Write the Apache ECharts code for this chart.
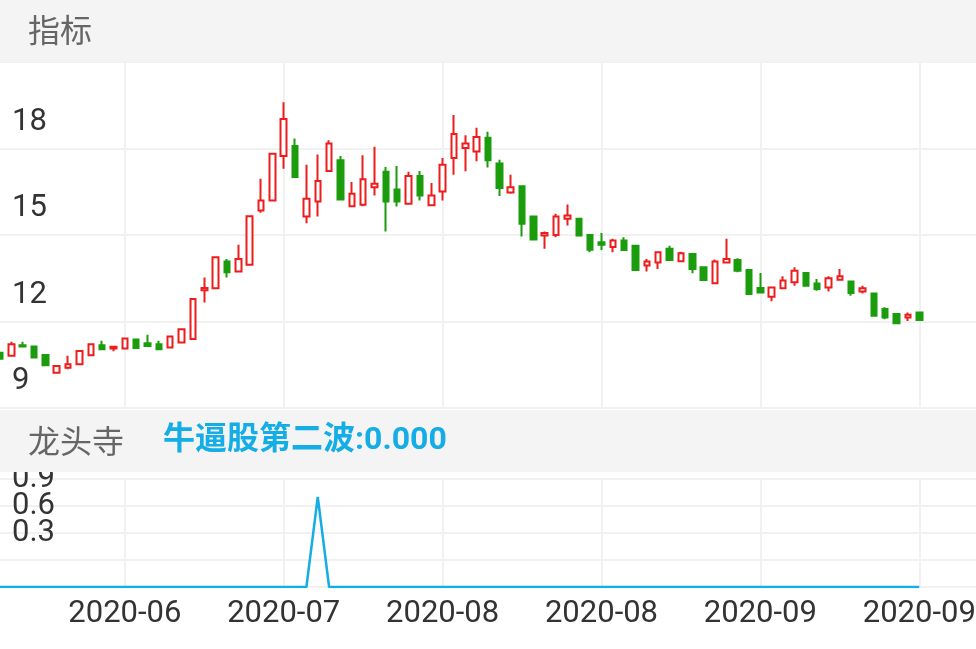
<!DOCTYPE html>
<html>
<head>
<meta charset="utf-8">
<title>指标</title>
<script src="https://cdn.jsdelivr.net/npm/echarts@6/dist/echarts.min.js"></script>
<style>
  html, body { margin: 0; padding: 0; background: #fff; }
  #main { width: 976px; height: 649px; }
</style>
</head>
<body>
<div id="main"></div>
<script>
// 交易日
const dates = [
    '2020-06-05', '2020-06-08', '2020-06-09', '2020-06-10', '2020-06-11', '2020-06-12',
    '2020-06-15', '2020-06-16', '2020-06-17', '2020-06-18', '2020-06-19', '2020-06-22',
    '2020-06-23', '2020-06-24', '2020-06-29', '2020-06-30', '2020-07-01', '2020-07-02',
    '2020-07-03', '2020-07-06', '2020-07-07', '2020-07-08', '2020-07-09', '2020-07-10',
    '2020-07-13', '2020-07-14', '2020-07-15', '2020-07-16', '2020-07-17', '2020-07-20',
    '2020-07-21', '2020-07-22', '2020-07-23', '2020-07-24', '2020-07-27', '2020-07-28',
    '2020-07-29', '2020-07-30', '2020-07-31', '2020-08-03', '2020-08-04', '2020-08-05',
    '2020-08-06', '2020-08-07', '2020-08-10', '2020-08-11', '2020-08-12', '2020-08-13',
    '2020-08-14', '2020-08-17', '2020-08-18', '2020-08-19', '2020-08-20', '2020-08-21',
    '2020-08-24', '2020-08-25', '2020-08-26', '2020-08-27', '2020-08-28', '2020-08-31',
    '2020-09-01', '2020-09-02', '2020-09-03', '2020-09-04', '2020-09-07', '2020-09-08',
    '2020-09-09', '2020-09-10', '2020-09-11', '2020-09-14', '2020-09-15', '2020-09-16',
    '2020-09-17', '2020-09-18', '2020-09-21', '2020-09-22', '2020-09-23', '2020-09-24',
    '2020-09-25', '2020-09-28', '2020-09-29', '2020-09-30'
];

// 开盘价
const openPrices = [
    10.92, 10.81, 11.18, 11.13, 10.84, 10.22, 10.40, 10.52, 10.83, 11.18, 11.06, 11.06,
    11.38, 11.25, 11.21, 11.10, 11.27, 11.39, 13.08, 13.15, 14.08, 13.73, 13.97, 15.85,
    16.20, 17.74, 18.09, 15.64, 16.16, 17.22, 17.59, 16.00, 16.05, 16.66, 17.19, 16.58,
    16.08, 17.05, 16.03, 16.51, 17.67, 18.02, 17.90, 18.37, 17.48, 16.47, 16.69, 15.64,
    14.98, 15.00, 15.56, 15.56, 15.00, 14.75, 14.58, 14.81, 14.63, 13.94, 14.05, 14.52,
    14.09, 14.34, 13.88, 13.33, 14.05, 14.13, 13.79, 13.16, 12.86, 13.15, 13.36, 13.68,
    13.32, 13.18, 13.45, 13.39, 13.04, 12.97, 12.43, 12.26, 12.14, 12.31
];

// 收盘价
const closePrices = [
    10.71, 11.21, 11.13, 10.75, 10.48, 10.46, 10.52, 10.98, 11.21, 11.04, 11.12, 11.41,
    11.08, 11.15, 11.04, 11.48, 11.73, 12.78, 13.16, 14.23, 13.71, 14.17, 15.65, 16.20,
    17.82, 19.02, 17.01, 16.26, 16.87, 18.17, 16.23, 16.43, 16.93, 16.78, 16.16, 16.16,
    17.05, 16.37, 16.37, 17.44, 18.50, 18.17, 18.40, 17.59, 16.63, 16.66, 15.39, 14.84,
    15.07, 15.64, 15.68, 14.98, 14.49, 14.66, 14.81, 14.48, 13.79, 14.08, 14.40, 14.13,
    14.37, 13.82, 13.44, 14.08, 14.17, 13.76, 12.95, 13.01, 13.18, 13.42, 13.76, 13.24,
    13.13, 13.50, 13.57, 12.99, 13.15, 12.20, 12.14, 11.94, 12.23, 12.05
];

// 最低价
const lowPrices = [
    10.71, 10.81, 11.12, 10.73, 10.45, 10.20, 10.34, 10.50, 10.80, 11.03, 10.97, 11.05,
    11.06, 11.14, 11.02, 11.08, 11.25, 11.37, 12.66, 13.13, 13.53, 13.71, 13.95, 15.77,
    16.18, 17.30, 17.00, 15.41, 15.64, 17.20, 16.21, 15.97, 16.00, 16.37, 15.12, 15.99,
    16.05, 16.20, 16.00, 16.20, 17.09, 17.21, 17.56, 17.34, 16.35, 16.43, 14.95, 14.83,
    14.52, 14.92, 15.33, 14.95, 14.40, 14.48, 14.40, 14.46, 13.76, 13.73, 13.82, 14.11,
    14.07, 13.67, 13.42, 13.31, 14.03, 13.71, 12.93, 12.99, 12.70, 13.13, 13.24, 13.22,
    13.07, 13.04, 13.44, 12.89, 12.97, 12.18, 12.08, 11.92, 12.02, 12.03
];

// 最高价
const highPrices = [
    10.92, 11.30, 11.30, 11.15, 10.86, 10.48, 10.81, 11.00, 11.24, 11.33, 11.15, 11.43,
    11.40, 11.54, 11.33, 11.50, 11.75, 12.80, 13.53, 14.25, 14.17, 14.66, 15.68, 16.95,
    17.84, 19.60, 18.35, 17.44, 17.79, 18.29, 17.74, 16.84, 17.77, 18.06, 17.36, 17.39,
    17.19, 17.22, 16.80, 17.67, 19.16, 18.46, 18.72, 18.58, 17.61, 17.09, 16.70, 15.66,
    15.12, 15.74, 16.06, 15.58, 15.02, 15.07, 14.87, 14.92, 14.65, 14.17, 14.42, 14.63,
    14.42, 14.36, 13.90, 14.15, 14.87, 14.19, 13.80, 13.68, 13.20, 13.57, 13.88, 13.70,
    13.47, 13.57, 13.82, 13.41, 13.24, 12.99, 12.49, 12.28, 12.31, 12.33
];

// 牛逼股第二波 信号
const signal = [
    0, 0, 0, 0, 0, 0, 0, 0, 0, 0, 0, 0, 0, 0, 0, 0, 0, 0, 0, 0, 0, 0, 0, 0,
    0, 0, 0, 0, 1, 0, 0, 0, 0, 0, 0, 0, 0, 0, 0, 0, 0, 0, 0, 0, 0, 0, 0, 0,
    0, 0, 0, 0, 0, 0, 0, 0, 0, 0, 0, 0, 0, 0, 0, 0, 0, 0, 0, 0, 0, 0, 0, 0,
    0, 0, 0, 0, 0, 0, 0, 0, 0, 0
];

// 右侧留白的空类目
const xCats = dates.concat(['', '', '', '', '']);

const kData = dates.map((d, i) => [openPrices[i], closePrices[i], lowPrices[i], highPrices[i]]);

const upColor = '#ee1d1d';
const downColor = '#1a9c0c';
const lineColor = '#14ade6';
const gridColor = '#f1f1f1';

// 从最后一个交易日往前每14个显示一次
const showTick = (idx) => idx < dates.length && (dates.length - 1 - idx) % 14 === 0;

var myChart = echarts.init(document.getElementById('main'));

const option = {
    animation: false,
    backgroundColor: '#fff',
    textStyle: { fontFamily: 'Roboto, "Noto Sans CJK SC", sans-serif' },
    grid: [
        { left: 0, right: 0, top: 62, height: 346, outerBoundsMode: 'none' },
        { left: 0, right: 0, top: 479, height: 108, outerBoundsMode: 'none' }
    ],
    xAxis: [
        {
            type: 'category',
            gridIndex: 0,
            data: xCats,
            boundaryGap: false,
            axisLine: { show: false },
            axisTick: { show: false },
            axisLabel: { show: false },
            splitLine: { show: true, interval: showTick, lineStyle: { color: gridColor, width: 2 } }
        },
        {
            type: 'category',
            gridIndex: 1,
            data: xCats,
            boundaryGap: false,
            axisLine: { show: false },
            axisTick: { show: false },
            axisLabel: {
                show: true,
                interval: showTick,
                margin: 12,
                fontSize: 31,
                color: '#333',
                formatter: (v) => v.slice(0, 7)
            },
            splitLine: { show: true, interval: showTick, lineStyle: { color: gridColor, width: 2 } }
        }
    ],
    yAxis: [
        {
            type: 'value',
            gridIndex: 0,
            min: 9,
            max: 21,
            interval: 3,
            axisLine: { show: false },
            axisTick: { show: false },
            axisLabel: {
                inside: true,
                margin: 12,
                fontSize: 31,
                color: '#333',
                verticalAlign: 'bottom',
                padding: [0, 0, 11, 0]
            },
            splitLine: { lineStyle: { color: gridColor, width: 2 } }
        },
        {
            type: 'value',
            gridIndex: 1,
            min: 0,
            max: 1.2,
            interval: 0.3,
            axisLine: { show: false },
            axisTick: { show: false },
            axisLabel: {
                inside: true,
                margin: 12,
                fontSize: 31,
                color: '#333',
                showMinLabel: false,
                verticalAlign: 'bottom',
                padding: [0, 0, 11, 0],
                formatter: (v) => v.toFixed(1)
            },
            splitLine: { lineStyle: { color: gridColor, width: 2 } }
        }
    ],
    series: [
        {
            name: 'K线',
            type: 'candlestick',
            xAxisIndex: 0,
            yAxisIndex: 0,
            data: kData,
            barWidth: 6,
            itemStyle: {
                color: '#fff',
                color0: downColor,
                borderColor: upColor,
                borderColor0: downColor,
                borderWidth: 2
            }
        },
        {
            name: '牛逼股第二波',
            type: 'line',
            xAxisIndex: 1,
            yAxisIndex: 1,
            data: signal,
            showSymbol: false,
            lineStyle: { color: lineColor, width: 2.5 }
        }
    ],
    graphic: [
        { type: 'rect', z: 100, shape: { x: 0, y: 0, width: 976, height: 62 }, style: { fill: '#f4f4f4' } },
        { type: 'rect', z: 100, shape: { x: 0, y: 410, width: 976, height: 62 }, style: { fill: '#f4f4f4' } },
        {
            type: 'text', z: 101, x: 28, y: 30,
            style: { text: '指标', fill: '#666', font: '32px "Noto Sans CJK SC"', verticalAlign: 'middle' }
        },
        {
            type: 'text', z: 101, x: 28, y: 441,
            style: { text: '龙头寺', fill: '#666', font: '32px "Noto Sans CJK SC"', verticalAlign: 'middle' }
        },
        {
            type: 'text', z: 101, x: 163, y: 441,
            style: {
                text: '牛逼股第二波:' + signal[signal.length - 1].toFixed(3),
                fill: lineColor,
                font: 'bold 32px Roboto, "Noto Sans CJK SC"',
                verticalAlign: 'middle'
            }
        }
    ]
};

myChart.setOption(option);
</script>
</body>
</html>
